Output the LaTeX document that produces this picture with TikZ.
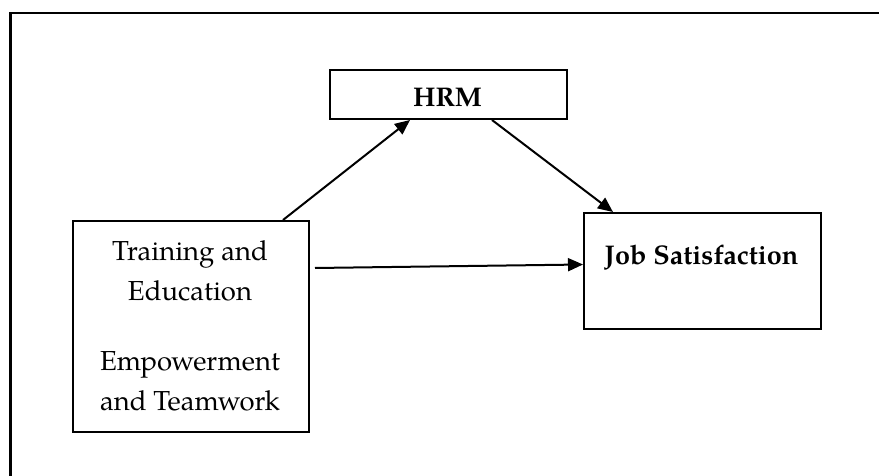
\documentclass[tikz,border=0pt]{standalone}
\usepackage{fontspec}
\setmainfont{TeX Gyre Pagella}
\usetikzlibrary{arrows.meta}
\begin{document}
\begin{tikzpicture}[x=1pt,y=-1pt,
  box/.style={draw,line width=2pt,inner sep=0pt,anchor=north west},
  conn/.style={line width=2pt,-{Triangle[length=15pt,width=13pt]}},
  lbl/.style={font=\fontsize{27.5}{40}\selectfont,inner sep=0pt,anchor=base},
  blbl/.style={font=\fontsize{27}{40}\selectfont\bfseries,inner sep=0pt,anchor=base}]
\useasboundingbox (0,0) rectangle (879,476);
\clip (0,0) rectangle (879,476);
\draw[line width=2.4pt] (10.5,500) -- (10.5,13) -- (900,13);
% boxes
\node[box,minimum width=236pt,minimum height=211pt] (tl) at (72,220) {};
\node[box,minimum width=237pt,minimum height=49pt] (hrm) at (329,69) {};
\node[box,minimum width=237pt,minimum height=116pt] (job) at (583,212) {};
% texts
\node[blbl] (hrmt) at (447.5,107) {HRM};
\node[blbl] (jobt) at (701.5,265) {Job Satisfaction};
\node[lbl] (t1) at (190,260) {Training and};
\node[lbl] (t2) at (190,300) {Education};
\node[lbl] (t3) at (190,370) {Empowerment};
\node[lbl] (t4) at (190,410) {and Teamwork};
% connectors
\draw[conn] ([xshift=211pt]tl.north west) -- ([xshift=81pt]hrm.south west);
\draw[conn] ([xshift=163pt]hrm.south west) -- ([xshift=30pt]job.north west);
\draw[conn] ([xshift=5pt,yshift=58.5pt]tl.east) -- ([yshift=6.5pt]job.west);
\end{tikzpicture}
\end{document}
